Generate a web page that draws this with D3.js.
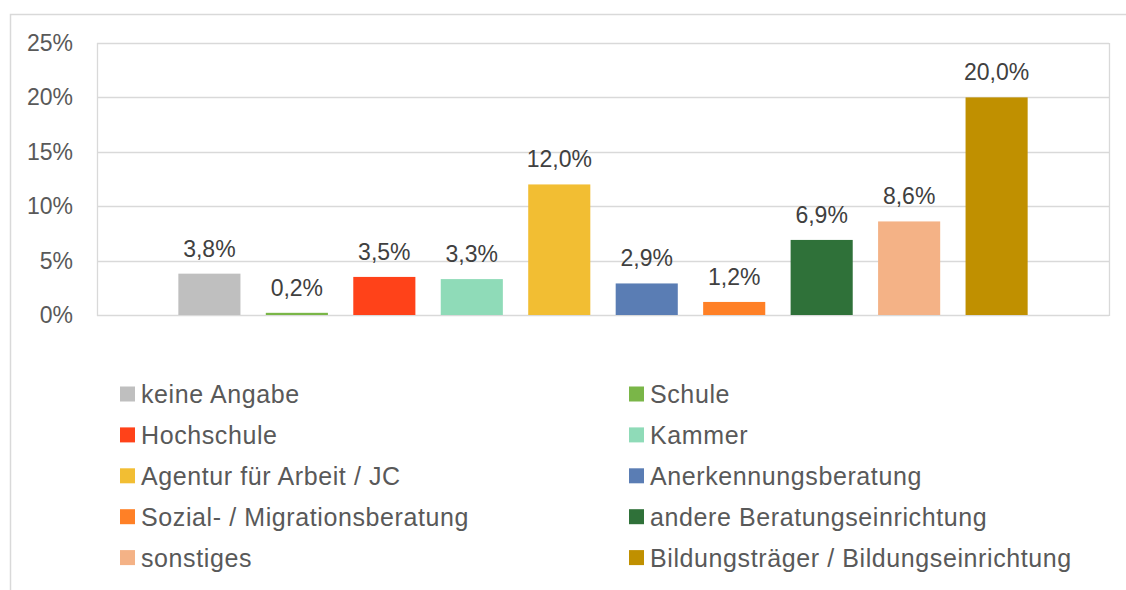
<!DOCTYPE html>
<meta charset="utf-8">
<head>
  <script src="https://d3js.org/d3.v7.min.js"></script>
  <style>
    body { margin: 0; background: #fff; font-family: 'Liberation Sans', Arial, sans-serif; }
  </style>
</head>
<div id="my_dataviz"></div>
<script>
  // data
  var categories = ["keine Angabe", "Schule", "Hochschule", "Kammer", "Agentur für Arbeit / JC",
    "Anerkennungsberatung", "Sozial- / Migrationsberatung", "andere Beratungseinrichtung",
    "sonstiges", "Bildungsträger / Bildungseinrichtung"];
  var values = [3.8, 0.2, 3.5, 3.3, 12.0, 2.9, 1.2, 6.9, 8.6, 20.0];
  var colors = ["#bfbfbf", "#7ab648", "#ff4219", "#8fdbb8", "#f2be33", "#5a7db4",
    "#ff8026", "#2f7139", "#f4b286", "#c09000"];
  var yTicks = [0, 5, 10, 15, 20, 25];

  var W = 1126, H = 590;
  var plot = { left: 97, right: 1109, top: 43, bottom: 315 };

  var svg = d3.select("#my_dataviz")
    .append("svg")
    .attr("width", W)
    .attr("height", H);

  // outer chart border (clipped at right and bottom)
  svg.append("rect")
    .attr("x", 10.5).attr("y", 14.5)
    .attr("width", 1130).attr("height", 600)
    .attr("fill", "none")
    .attr("stroke", "#d9d9d9")
    .attr("stroke-width", 1.5);

  var y = d3.scaleLinear()
    .domain([0, 25])
    .range([plot.bottom, plot.top]);

  var x = d3.scaleBand()
    .domain(categories)
    .range([plot.left, plot.right])
    .paddingInner(0.29)
    .paddingOuter(0.93);

  // gridlines
  svg.append("g")
    .selectAll("line")
    .data(yTicks)
    .enter().append("line")
    .attr("x1", plot.left).attr("x2", plot.right)
    .attr("y1", function (d) { return Math.round(y(d)) + 0.5; })
    .attr("y2", function (d) { return Math.round(y(d)) + 0.5; })
    .attr("stroke", "#d9d9d9")
    .attr("stroke-width", 1.3);

  // plot frame sides
  [plot.left, plot.right].forEach(function (px) {
    svg.append("line")
      .attr("x1", px + 0.5).attr("x2", px + 0.5)
      .attr("y1", plot.top).attr("y2", plot.bottom + 1)
      .attr("stroke", "#d9d9d9")
      .attr("stroke-width", 1.3);
  });

  // y tick labels
  svg.append("g")
    .selectAll("text")
    .data(yTicks)
    .enter().append("text")
    .attr("x", 73)
    .attr("y", function (d) { return y(d); })
    .attr("dy", "0.35em")
    .attr("text-anchor", "end")
    .attr("fill", "#595959")
    .style("font-size", "23px")
    .text(function (d) { return d + "%"; });

  // bars
  svg.append("g")
    .selectAll("rect")
    .data(values)
    .enter().append("rect")
    .attr("x", function (d, i) { return x(categories[i]); })
    .attr("width", x.bandwidth())
    .attr("y", function (d) { return y(d); })
    .attr("height", function (d) { return y(0) - y(d); })
    .attr("fill", function (d, i) { return colors[i]; });

  // data labels
  svg.append("g")
    .selectAll("text")
    .data(values)
    .enter().append("text")
    .attr("x", function (d, i) { return x(categories[i]) + x.bandwidth() / 2; })
    .attr("y", function (d) { return y(d) - 17; })
    .attr("text-anchor", "middle")
    .attr("fill", "#404040")
    .style("font-size", "23px")
    .text(function (d) { return d.toFixed(1).replace(".", ",") + "%"; });

  // legend, two columns
  var legend = svg.append("g")
    .selectAll("g")
    .data(categories)
    .enter().append("g")
    .attr("transform", function (d, i) {
      var cx = (i % 2 === 0) ? 120 : 629;
      var cy = 394 + Math.floor(i / 2) * 40.9;
      return "translate(" + cx + "," + cy + ")";
    });

  legend.append("rect")
    .attr("x", 0).attr("y", -7.5)
    .attr("width", 15).attr("height", 15)
    .attr("fill", function (d, i) { return colors[i]; });

  legend.append("text")
    .attr("x", 21)
    .attr("y", 0)
    .attr("dy", "0.36em")
    .attr("fill", "#595959")
    .style("font-size", "25px")
    .style("letter-spacing", "0.6px")
    .text(function (d) { return d; });
</script>
